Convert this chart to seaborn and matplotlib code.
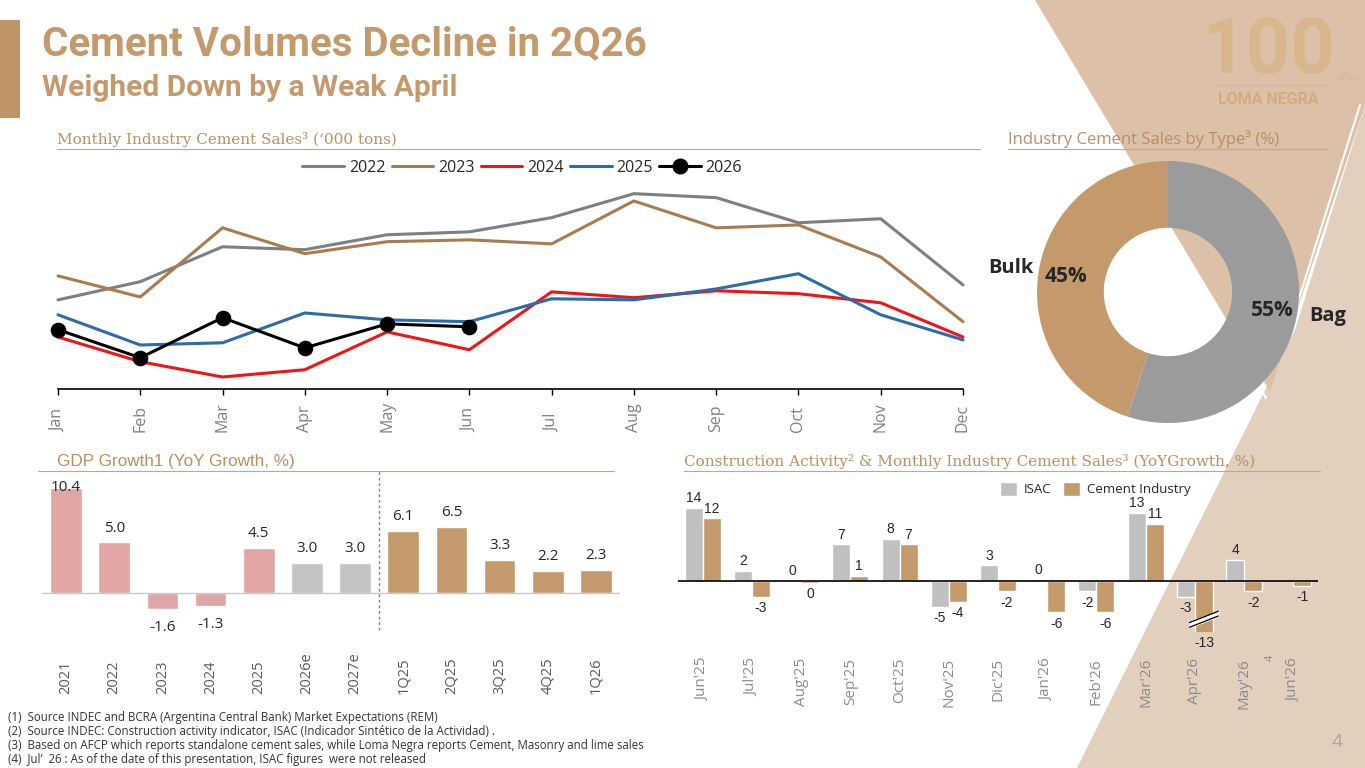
import numpy as np
import pandas as pd
import seaborn as sns
import matplotlib.pyplot as plt
from matplotlib.lines import Line2D
from matplotlib.patches import Polygon, Rectangle

sns.set_theme(style="white")
plt.rcParams['font.family'] = ['Open Sans', 'DejaVu Sans']

W, H = 1365, 768
TAN = "#C49A6C"
HEAD = "#B98F63"

# ---- monthly industry cement sales ('000 tons) ----
months = ["Jan", "Feb", "Mar", "Apr", "May", "Jun",
          "Jul", "Aug", "Sep", "Oct", "Nov", "Dec"]
sales_2022 = [855, 905, 1001, 993, 1034, 1042, 1081, 1147, 1136, 1067, 1078, 896]
sales_2023 = [921, 863, 1053, 982, 1015, 1020, 1009, 1127, 1053, 1061, 973, 795]
sales_2024 = [753, 685, 643, 663, 767, 718, 877, 861, 880, 872, 847, 753]
sales_2025 = [814, 731, 737, 819, 800, 795, 858, 855, 885, 927, 814, 745]
sales_2026 = [773, 696, 806, 723, 789, 781]
line_colors = {"2022": "#7F7F7F", "2023": "#A97C50", "2024": "#F01414", "2025": "#2E6BA8"}

# ---- cement sales by type (%) ----
type_names = ["Bag", "Bulk"]
type_share = [55, 45]
type_colors = ["#9B9B9B", TAN]

# ---- GDP growth (YoY %) ----
gdp_periods = ["2021", "2022", "2023", "2024", "2025", "2026e", "2027e",
               "1Q25", "2Q25", "3Q25", "4Q25", "1Q26"]
gdp_growth = [10.4, 5.0, -1.6, -1.3, 4.5, 3.0, 3.0, 6.1, 6.5, 3.3, 2.2, 2.3]
gdp_kind = ["annual"] * 5 + ["forecast"] * 2 + ["quarter"] * 5
gdp_colors = {"annual": "#E2A5A6", "forecast": "#C3C3C3", "quarter": TAN}

# ---- construction activity & cement sales (YoY %) ----
cons_months = ["Jun'25", "Jul'25", "Aug'25", "Sep'25", "Oct'25", "Nov'25", "Dic'25",
               "Jan'26", "Feb'26", "Mar'26", "Apr'26", "May'26", "Jun'26"]
isac_growth = [14, 2, 0, 7, 8, -5, 3, 0.3, -2, 13, -3, 4, np.nan]
cement_growth = [12, -3, -0.4, 1, 7, -4, -2, -6, -6, 11, -13, -2, -1]
cons_colors = {"ISAC": "#C0C0C0", "Cement Industry": TAN}

footnotes = [
    "(1)  Source INDEC and BCRA (Argentina Central Bank) Market Expectations (REM)",
    "(2)  Source INDEC: Construction activity indicator, ISAC (Indicador Sintético de la Actividad) .",
    "(3)  Based on AFCP which reports standalone cement sales, while Loma Negra reports Cement, Masonry and lime sales",
    "(4)  Jul’  26 : As of the date of this presentation, ISAC figures  were not released",
]


def box(l, t, r, b):
    # pixel box on the slide -> figure fraction
    return [l / W, 1 - b / H, (r - l) / W, (b - t) / H]


fig = plt.figure(figsize=(W / 100, H / 100), dpi=100)
fig.patch.set_facecolor("white")

# background layer in pixel coordinates
bg = fig.add_axes([0, 0, 1, 1])
bg.set_xlim(0, W)
bg.set_ylim(H, 0)
bg.axis("off")
bg.add_patch(Polygon([(1365, 105), (1295, 330), (1077, 768), (1365, 768)],
                     closed=True, color="#E3CFBE", lw=0))
bg.add_patch(Polygon([(1035, 0), (1365, 0), (1365, 105), (1270, 392)],
                     closed=True, color="#DCC0A7", lw=0))
bg.plot([1029, 1266], [0, 398], color="white", lw=1.5)
bg.plot([1360, 1289, 1070], [105, 330, 768], color="white", lw=1.5)

bg.add_patch(Rectangle((0, 20), 20, 98, color="#BF9466", lw=0))
narrow = ['Liberation Sans Narrow', 'Roboto', 'DejaVu Sans']
bg.text(42, 55, "Cement Volumes Decline in 2Q26", fontsize=29, fontweight="bold",
        color=TAN, family=narrow, va="baseline")
bg.text(42, 96, "Weighed Down by a Weak April", fontsize=21.5, fontweight="bold",
        color=TAN, family=narrow, va="baseline")

# logo
bg.text(1268, 73, "100", fontsize=56, fontweight="bold", color="#D8B78F", family=narrow,
        ha="center", va="baseline")
bg.text(1348, 80, "años", fontsize=8, color="#D8B78F", style="italic",
        ha="center", va="baseline")
bg.plot([1213, 1328], [85, 85], color="#D8B78F", lw=0.8)
bg.text(1268, 104, "LOMA NEGRA", fontsize=11.5, fontweight="bold", color="#D4AC7E",
        family=narrow, ha="center", va="baseline")

# section headers
bg.text(57, 144, "Monthly Industry Cement Sales³ (‘000 tons)", family="DejaVu Serif",
        fontsize=11, color=HEAD, va="baseline")
bg.plot([57, 980], [149, 149], color="#C9A47E", lw=0.8)
bg.text(1008, 144, "Industry Cement Sales by Type³ (%)", fontsize=12,
        color=HEAD, va="baseline")
bg.plot([1008, 1328], [149, 149], color="#C9A47E", lw=0.8)
bg.text(57, 466, "GDP Growth1 (YoY Growth, %)", family="Liberation Sans",
        fontsize=12.3, color=HEAD, va="baseline")
bg.plot([38, 614], [471, 471], color="#C9A47E", lw=0.8)
bg.text(684, 466, "Construction Activity² & Monthly Industry Cement Sales³ (YoYGrowth, %)",
        family="DejaVu Serif", fontsize=11, color=HEAD, va="baseline")
bg.plot([684, 1320], [471, 471], color="#C9A47E", lw=0.8)

# footnotes and page number
for i, note in enumerate(footnotes):
    bg.text(8, 717 + 14 * i, note, fontsize=8.3, color="#333333", va="center")
bg.text(1337, 742, "4", fontsize=14, color="#A6A6A6", ha="center", va="center")

# ---------------- monthly sales lines ----------------
ax1 = fig.add_axes(box(58, 150, 963, 389))
ax1.set_facecolor("none")
line_df = pd.DataFrame({
    "month": np.tile(np.arange(len(months)), 4),
    "sales": sales_2022 + sales_2023 + sales_2024 + sales_2025,
    "year": np.repeat(list(line_colors), len(months)),
})
sns.lineplot(data=line_df, x="month", y="sales", hue="year", palette=line_colors,
             linewidth=2.2, legend=False, ax=ax1)
sns.lineplot(x=np.arange(len(sales_2026)), y=sales_2026, color="black", linewidth=2.2,
             marker="o", markersize=10.5, markeredgecolor="black", legend=False, ax=ax1)
for ln in ax1.lines:
    ln.set_clip_on(False)
ax1.set_xlim(0, 11)
ax1.set_ylim(610, 1267)
ax1.set_xticks(range(len(months)), months)
ax1.set_yticks([])
ax1.set_xlabel("")
ax1.set_ylabel("")
for s in ["top", "right", "left"]:
    ax1.spines[s].set_visible(False)
ax1.spines["bottom"].set_color("black")
ax1.spines["bottom"].set_linewidth(1.2)
ax1.tick_params(axis="x", bottom=True, length=4, width=1, color="black", pad=27,
                labelsize=11.5, labelcolor="#808080", rotation=90)
for lbl in ax1.get_xticklabels():
    lbl.set_va("bottom")
handles = [Line2D([], [], color=c, lw=2.2) for c in line_colors.values()]
handles.append(Line2D([], [], color="black", lw=2.2, marker="o", markersize=10.5))
ax1.legend(handles, list(line_colors) + ["2026"], loc="center", bbox_to_anchor=(0.513, 0.925),
           ncol=5, frameon=False, fontsize=11.5, handlelength=2.6, handletextpad=0.3,
           columnspacing=0.4)

# ---------------- donut ----------------
ax2 = fig.add_axes(box(1037, 161, 1299, 423))
ax2.pie(type_share, colors=type_colors, startangle=90, counterclock=False,
        wedgeprops=dict(width=0.51, edgecolor="none"))
ax2.set_xlim(-1, 1)
ax2.set_ylim(-1, 1)
ax2.set_aspect("equal")
donut_txt = [(1066, 277, f"{type_share[1]}%", 15), (1011, 268, type_names[1], 14.5),
             (1272, 311, f"{type_share[0]}%", 15), (1328, 316, type_names[0], 14.5)]
for tx, ty, s, fs in donut_txt:
    ax2.text(tx, ty, s, transform=bg.transData, fontsize=fs, fontweight="bold",
             ha="center", va="center", clip_on=False)

# ---------------- GDP bars ----------------
ax3 = fig.add_axes(box(42, 476, 620, 632))
ax3.set_facecolor("none")
sns.barplot(x=gdp_periods, y=gdp_growth, hue=gdp_kind, palette=gdp_colors, dodge=False,
            width=0.66, saturation=1, legend=False, ax=ax3)
ax3.set_xlim(-0.5, 11.5)
ax3.set_ylim(-3.86, 11.58)
ax3.axhline(0, color="#C8C8C8", lw=1)
ax3.axvline(6.5, ymin=0.01, ymax=1.03, color="#808080", lw=1, ls=(0, (2, 2)), clip_on=False)
for bar in ax3.patches:
    h = bar.get_height()
    if np.isnan(h):
        continue
    xc = bar.get_x() + bar.get_width() / 2
    if h > 9:
        ax3.annotate(f"{h:.1f}", (xc, h), ha="center", va="center", fontsize=11,
                     color="#262626", annotation_clip=False)
    elif h >= 0:
        ax3.annotate(f"{h:.1f}", (xc, h), xytext=(0, 5), textcoords="offset points",
                     ha="center", va="bottom", fontsize=11, color="#262626")
    else:
        ax3.annotate(f"{h:.1f}", (xc, h), xytext=(0, -8), textcoords="offset points",
                     ha="center", va="top", fontsize=11, color="#262626")
ax3.set_xticks(range(len(gdp_periods)), gdp_periods)
ax3.set_yticks([])
sns.despine(ax=ax3, left=True, bottom=True)
ax3.tick_params(axis="x", length=0, pad=44.6, labelsize=10.5, labelcolor="#595959", rotation=90)
for lbl in ax3.get_xticklabels():
    lbl.set_va("bottom")

# ---------------- construction vs cement bars ----------------
ax4 = fig.add_axes(box(678, 476, 1318, 632))
ax4.set_facecolor("none")
cons_df = pd.DataFrame({
    "month": cons_months * 2,
    "series": ["ISAC"] * len(cons_months) + ["Cement Industry"] * len(cons_months),
    "growth": isac_growth + cement_growth,
})
sns.barplot(data=cons_df, x="month", y="growth", hue="series", order=cons_months,
            hue_order=list(cons_colors), palette=cons_colors, width=0.73, saturation=1, ax=ax4)
ylo, yhi = -9.75, 20.1
ax4.set_xlim(-0.5, 12.5)
ax4.set_ylim(ylo, yhi)
ax4.axhline(0, color="black", lw=1.2)
for cont in ax4.containers:
    for bar in cont:
        h = bar.get_height()
        if np.isnan(h):
            continue
        xc = bar.get_x() + bar.get_width() / 2
        txt = str(int(round(h)))
        if h >= 0:
            ax4.annotate(txt, (xc, h), xytext=(0, 2), textcoords="offset points",
                         ha="center", va="bottom", fontsize=10, family="Liberation Sans")
        else:
            ax4.annotate(txt, (xc, max(h, ylo)), xytext=(0, -3), textcoords="offset points",
                         ha="center", va="top", fontsize=10, family="Liberation Sans",
                         annotation_clip=False)
        if h < ylo:
            # axis break marks on the clipped bar
            bx = np.array([bar.get_x() - 0.11, bar.get_x() + bar.get_width() + 0.11])
            yb = ylo + 0.9 + (bx - bx[0]) * 3.7
            ax4.fill_between(bx, yb, yb + 0.9, color="white", zorder=5)
            ax4.plot(bx, yb, color="black", lw=0.9, zorder=6)
            ax4.plot(bx, yb + 0.9, color="black", lw=0.9, zorder=6)
ax4.set_xticks(range(len(cons_months)), cons_months)
ax4.set_yticks([])
ax4.set_xlabel("")
ax4.set_ylabel("")
sns.despine(ax=ax4, left=True, bottom=True)
ax4.tick_params(axis="x", length=0, pad=18.7, labelsize=11, labelcolor="#8C8C8C", rotation=90)
ax4.text(11.53, -0.165, "4", transform=ax4.get_xaxis_transform(), rotation=90,
         fontsize=8, color="#8C8C8C", ha="center", va="center")
sns.move_legend(ax4, "center", bbox_to_anchor=(0.652, 0.917), ncol=2, frameon=False,
                title=None, fontsize=9.5, handlelength=1.3, handleheight=1.3,
                handletextpad=0.5, columnspacing=0.9)

fig.savefig("out.png", dpi=100)
